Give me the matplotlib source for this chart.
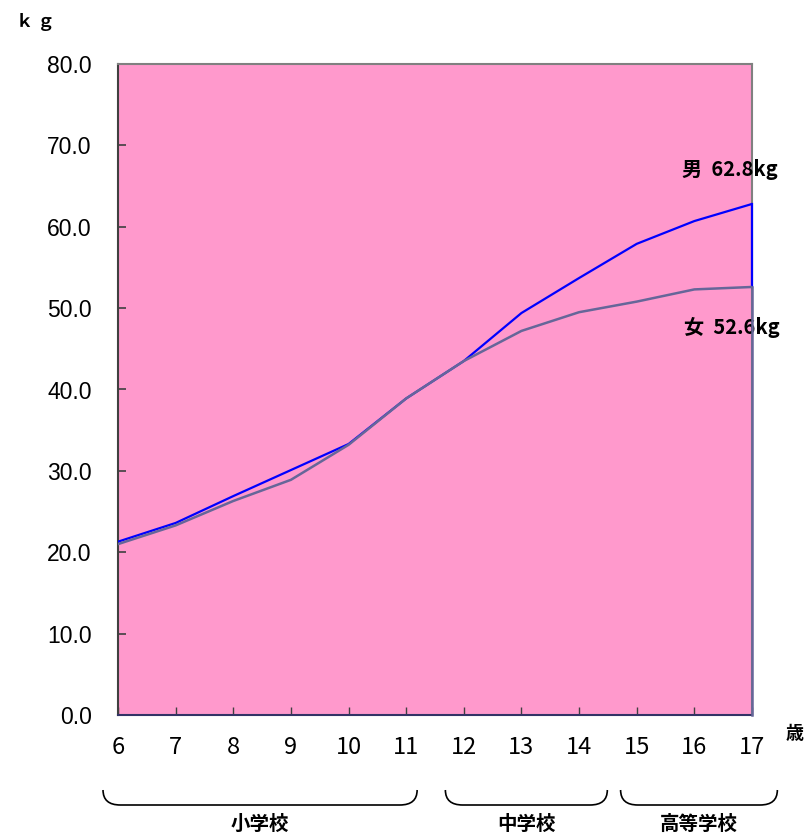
#!/usr/bin/env python3
"""
Average body weight by age (boys / girls), school-year chart.
"""

import matplotlib
matplotlib.use("Agg")
import matplotlib.pyplot as plt
import matplotlib.transforms as mtransforms
from matplotlib.path import Path
from matplotlib.patches import PathPatch


# ============================================================
# DATA
# ============================================================

ages = [6, 7, 8, 9, 10, 11, 12, 13, 14, 15, 16, 17]
male_kg = [21.3, 23.6, 26.9, 30.1, 33.3, 38.9, 43.5, 49.4, 53.7, 57.9, 60.7, 62.8]
female_kg = [21.0, 23.3, 26.3, 28.9, 33.2, 38.9, 43.5, 47.2, 49.5, 50.8, 52.3, 52.6]

y_ticks = [0, 10, 20, 30, 40, 50, 60, 70, 80]

# school groups: (label, brace start, brace end) in age units
school_groups = [
    ("小学校", 5.74, 11.19),
    ("中学校", 11.68, 14.49),
    ("高等学校", 14.72, 17.44),
]

male_label = "男  62.8kg"
female_label = "女  52.6kg"


# ============================================================
# STYLE
# ============================================================

plt.rcParams["font.family"] = ["Liberation Sans", "DejaVu Sans"]
jp_font = ["Noto Sans CJK JP", "DejaVu Sans"]

pink = "#FF99CC"
male_color = "#0000FF"
female_color = "#666699"
spine_gray = "#808080"

W, H = 809, 838
fig = plt.figure(figsize=(W / 100, H / 100), dpi=100)

left, right, top, bottom = 118, 752, 64, 715
ax = fig.add_axes([left / W, 1 - bottom / H, (right - left) / W, (bottom - top) / H])
ax.set_facecolor(pink)

ax.set_xlim(ages[0], ages[-1])
ax.set_ylim(0, 80)

# lines
ax.plot(ages, male_kg, color=male_color, lw=1.6, solid_joinstyle="round", zorder=3)
ax.plot([ages[-1], ages[-1]], [male_kg[-1], female_kg[-1]], color=male_color,
        lw=1.6, clip_on=False, zorder=3)
ax.plot(ages, female_kg, color=female_color, lw=1.8, solid_joinstyle="round", zorder=3)
ax.plot([ages[-1], ages[-1]], [female_kg[-1], 0], color=female_color,
        lw=1.8, clip_on=False, zorder=4)

# axes look
for side in ["top", "right"]:
    ax.spines[side].set_color(spine_gray)
    ax.spines[side].set_linewidth(1.5)
ax.spines["left"].set_color("#404040")
ax.spines["left"].set_linewidth(1.5)
ax.spines["bottom"].set_color("#333366")
ax.spines["bottom"].set_linewidth(1.5)

ax.set_yticks(y_ticks)
ax.set_yticklabels([f"{v:.1f}" for v in y_ticks])
ax.set_xticks(ages)
ax.set_xticklabels([str(a) for a in ages], fontfamily=jp_font)

ax.tick_params(axis="y", direction="in", length=6, width=1.2, color="#404040",
               labelsize=16.5, pad=19)
ax.tick_params(axis="x", direction="in", length=6, width=1.0, color="#404040",
               labelsize=17, pad=15)

# end labels
ax.text(15.78, 67.0, male_label, fontsize=14.5, fontweight="bold",
        fontfamily=jp_font, va="center", ha="left", clip_on=False)
ax.text(15.82, 47.6, female_label, fontsize=14.5, fontweight="bold",
        fontfamily=jp_font, va="center", ha="left", clip_on=False)

# unit labels
fig.text(16 / W, 1 - 22 / H, "ｋ ｇ", fontsize=12.5, fontweight="bold",
         fontfamily=jp_font, va="center", ha="left")
fig.text(786 / W, 1 - 733 / H, "歳", fontsize=13, fontweight="bold",
         fontfamily=jp_font, va="center", ha="left")

# braces under the axis
trans = mtransforms.blended_transform_factory(ax.transData, ax.transAxes)
y_top = (bottom - 790) / (bottom - top)
y_bot = (bottom - 805) / (bottom - top)
y_txt = (bottom - 824) / (bottom - top)
r = 0.3

for label, x0, x1 in school_groups:
    verts = [
        (x0, y_top), (x0, y_bot), (x0 + r, y_bot),
        (x1 - r, y_bot),
        (x1, y_bot), (x1, y_top),
    ]
    codes = [Path.MOVETO, Path.CURVE3, Path.CURVE3,
             Path.LINETO,
             Path.CURVE3, Path.CURVE3]
    patch = PathPatch(Path(verts, codes), fill=False, edgecolor="black",
                      lw=1.2, transform=trans, clip_on=False)
    ax.add_patch(patch)
    ax.text((x0 + x1) / 2, y_txt, label, transform=trans, fontsize=14,
            fontweight="bold", fontfamily=jp_font, ha="center", va="center")

fig.savefig("out.png", dpi=100, facecolor="white")
